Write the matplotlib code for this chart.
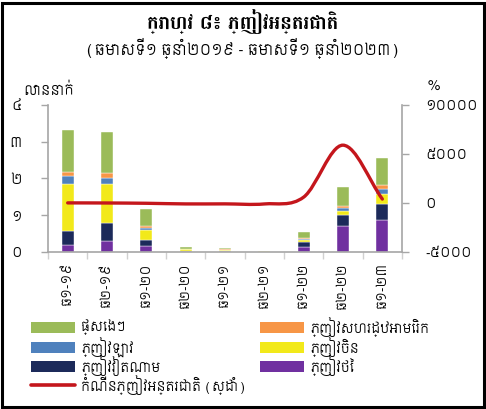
import matplotlib
matplotlib.use("Agg")
import matplotlib.pyplot as plt
import numpy as np
from matplotlib.patches import Rectangle, PathPatch
from matplotlib.lines import Line2D
from matplotlib.path import Path

BODY = ["Siemreap", "Battambang", "DejaVu Sans"]
TITLE = ["Battambang", "Siemreap", "DejaVu Sans"]

# categories (semesters)
periods = ["ឆ១-១៩", "ឆ២-១៩", "ឆ១-២០", "ឆ២-២០", "ឆ១-២១", "ឆ២-២១", "ឆ១-២២", "ឆ២-២២", "ឆ១-២៣"]

# visitors, million persons (stack order bottom -> top)
thai = [0.18, 0.30, 0.16, 0.02, 0.03, 0.005, 0.14, 0.71, 0.87]
vietnam = [0.39, 0.49, 0.17, 0.01, 0.01, 0.005, 0.14, 0.31, 0.44]
china = [1.29, 1.07, 0.28, 0.04, 0.02, 0.01, 0.05, 0.10, 0.28]
laos = [0.20, 0.16, 0.04, 0.01, 0.00, 0.00, 0.02, 0.08, 0.12]
usa = [0.13, 0.12, 0.05, 0.01, 0.01, 0.00, 0.02, 0.06, 0.10]
others = [1.13, 1.12, 0.48, 0.04, 0.04, 0.02, 0.17, 0.50, 0.76]

# growth of international visitors, % (right axis)
growth = [10, 0, -30, -95, -90, -98, 600, 5900, 400]

series = [
    ("ភ្ញៀវថៃ", thai, "#7030A0"),
    ("ភ្ញៀវវៀតណាម", vietnam, "#1C2A5A"),
    ("ភ្ញៀវចិន", china, "#F2E91A"),
    ("ភ្ញៀវឡាវ", laos, "#4F81BD"),
    ("ភ្ញៀវសហរដ្ឋអាមេរិក", usa, "#F79646"),
    ("ផ្សេងៗ", others, "#9BBB59"),
]
line_label = "កំណើនភ្ញៀវអន្តរជាតិ (ស្ដាំ)"
line_color = "#C4161C"
grey = "#A6A6A6"

fig = plt.figure(figsize=(4.86, 4.09), dpi=100)
fig.patches.append(Rectangle((0.005, 0.006), 0.99, 0.986, transform=fig.transFigure,
                             fill=False, edgecolor="black", linewidth=2.2))

fig.text(0.5, 0.948, "ក្រាហ្វ ៨៖ ភ្ញៀវអន្តរជាតិ", ha="center", va="center",
         family=TITLE, fontsize=14, fontweight="bold")
fig.text(0.5, 0.882, "(ឆមាសទី១ ឆ្នាំ២០១៩ - ឆមាសទី១ ឆ្នាំ២០២៣)", ha="center", va="center",
         family=BODY, fontsize=11)
fig.text(0.047, 0.778, "លាននាក់", ha="left", va="center", family=BODY, fontsize=10)
fig.text(0.893, 0.787, "%", ha="center", va="center", family=BODY, fontsize=10)

ax = fig.add_axes([0.0988, 0.3839, 0.7284, 0.3594])
x = np.arange(len(periods))
bottom = np.zeros(len(periods))
colors = {}
for name, vals, col in series:
    ax.bar(x, vals, width=0.3, bottom=bottom, color=col, edgecolor="white", linewidth=0.3)
    bottom += np.array(vals)
    colors[name] = col

ax.set_xlim(-0.5, len(periods) - 0.5)
ax.set_ylim(0, 4)
ax.set_yticks([0, 1, 2, 3, 4])
ax.set_yticklabels(["០", "១", "២", "៣", "៤"], family=BODY, fontsize=10)
ax.set_xticks(x)
ax.set_xticklabels(periods, rotation=90, family=BODY, fontsize=9.5)
ax.set_xticks(np.arange(len(periods) + 1) - 0.5, minor=True)
ax.tick_params(axis="x", which="major", length=0, pad=8)
ax.tick_params(axis="x", which="minor", length=5, color="#D0D0D0", width=1)
ax.tick_params(axis="y", length=5, color=grey, width=1, pad=14)
for s in ["top", "right"]:
    ax.spines[s].set_visible(False)
for s in ["left", "bottom"]:
    ax.spines[s].set_color(grey)
    ax.spines[s].set_linewidth(1.2)

ax2 = ax.twinx()
ax2.set_ylim(-5000, 10000)
ax2.set_yticks([-5000, 0, 5000, 10000])
ax2.set_yticklabels(["-៥០០០", "០", "៥០០០", "១០០០០"], family=BODY, fontsize=10)
ax2.tick_params(axis="y", length=5, color=grey, width=1, pad=12)
for s in ["top", "left", "bottom"]:
    ax2.spines[s].set_visible(False)
ax2.spines["right"].set_color(grey)
ax2.spines["right"].set_linewidth(1.2)

# smoothed growth line drawn as cubic Bezier segments through the data points
g = np.array(growth, dtype=float)
n = len(g)
tang = np.zeros(n)
tang[1:-1] = (g[2:] - g[:-2]) / 2
tang[0] = g[1] - g[0]
tang[-1] = g[-1] - g[-2]
verts = [(x[0], g[0])]
codes = [Path.MOVETO]
for i in range(n - 1):
    verts += [(x[i] + 1 / 3, g[i] + tang[i] / 3),
              (x[i + 1] - 1 / 3, g[i + 1] - tang[i + 1] / 3),
              (x[i + 1], g[i + 1])]
    codes += [Path.CURVE4] * 3
ax2.add_patch(PathPatch(Path(verts, codes), fill=False, edgecolor=line_color,
                        linewidth=2.4, capstyle="round"))

# legend, laid out as in the source: two columns of swatches
W, H = 486.0, 409.0
legend_rows = [
    ("ផ្សេងៗ", 31, 327), ("ភ្ញៀវសហរដ្ឋអាមេរិក", 260, 327),
    ("ភ្ញៀវឡាវ", 31, 347), ("ភ្ញៀវចិន", 260, 347),
    ("ភ្ញៀវវៀតណាម", 31, 366), ("ភ្ញៀវថៃ", 260, 366),
]
for nm, px, py in legend_rows:
    fig.patches.append(Rectangle((px / W, (H - py - 5.5) / H), 44 / W, 11 / H,
                                 transform=fig.transFigure, facecolor=colors[nm],
                                 edgecolor="none"))
    fig.text((px + 50) / W, (H - py) / H, nm, ha="left", va="center",
             family=BODY, fontsize=9.5)
fig.lines.append(Line2D([31 / W, 75 / W], [(H - 385) / H] * 2, transform=fig.transFigure,
                        color=line_color, linewidth=2.6, solid_capstyle="round"))
fig.text(81 / W, (H - 385) / H, line_label, ha="left", va="center", family=BODY, fontsize=9.5)

fig.savefig("out.png", dpi=100)
